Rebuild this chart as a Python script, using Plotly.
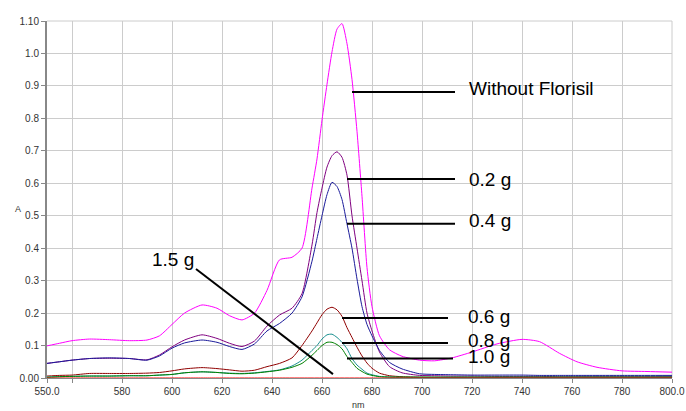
import plotly.graph_objects as go

# Wavelength (nm)
wavelength = [550, 555, 560, 567, 575, 583, 590, 595, 600, 605, 612, 618, 623, 628, 633, 638,
              643, 648, 652, 656, 658, 660, 662, 664, 666, 668, 670, 672, 674, 676, 678, 680,
              683, 687, 692, 699, 705, 712, 720, 730, 740, 747, 755, 762, 770, 780, 790, 800]

# Absorbance series
without_florisil = [0.099, 0.107, 0.115, 0.120, 0.118, 0.115, 0.117, 0.130, 0.165, 0.200, 0.225, 0.215,
                    0.192, 0.179, 0.200, 0.270, 0.364, 0.372, 0.400, 0.585, 0.675, 0.795, 0.905, 1.005,
                    1.075, 1.092, 1.030, 0.920, 0.760, 0.560, 0.340, 0.220, 0.130, 0.087, 0.067, 0.055,
                    0.053, 0.062, 0.080, 0.105, 0.119, 0.112, 0.076, 0.050, 0.033, 0.022, 0.020, 0.018]
g_0_2 = [0.045, 0.050, 0.055, 0.060, 0.061, 0.060, 0.056, 0.071, 0.096, 0.117, 0.133, 0.122,
         0.107, 0.097, 0.114, 0.160, 0.194, 0.215, 0.260, 0.410, 0.510, 0.585, 0.650, 0.685,
         0.697, 0.680, 0.625, 0.500, 0.400, 0.300, 0.200, 0.145, 0.080, 0.035, 0.016, 0.008,
         0.007, 0.006, 0.006, 0.005, 0.005, 0.005, 0.004, 0.004, 0.004, 0.004, 0.004, 0.004]
g_0_4 = [0.045, 0.050, 0.055, 0.060, 0.062, 0.060, 0.055, 0.068, 0.092, 0.108, 0.117, 0.110,
         0.097, 0.088, 0.105, 0.145, 0.168, 0.200, 0.250, 0.360, 0.430, 0.500, 0.565, 0.603,
         0.590, 0.550, 0.475, 0.400, 0.305, 0.220, 0.165, 0.130, 0.085, 0.048, 0.028, 0.013,
         0.011, 0.010, 0.009, 0.009, 0.009, 0.008, 0.008, 0.008, 0.008, 0.008, 0.008, 0.008]
g_0_6 = [0.006, 0.008, 0.009, 0.014, 0.014, 0.014, 0.015, 0.017, 0.022, 0.028, 0.032, 0.029,
         0.025, 0.021, 0.024, 0.035, 0.045, 0.062, 0.100, 0.145, 0.170, 0.195, 0.212, 0.218,
         0.210, 0.190, 0.155, 0.125, 0.095, 0.068, 0.046, 0.030, 0.015, 0.007, 0.004, 0.002,
         0.001, 0.001, 0.001, 0.001, 0.001, 0.001, 0.001, 0.001, 0.001, 0.001, 0.001, 0.001]
g_0_8 = [0.003, 0.004, 0.005, 0.006, 0.006, 0.007, 0.007, 0.009, 0.011, 0.016, 0.019, 0.017,
         0.015, 0.014, 0.016, 0.020, 0.025, 0.037, 0.055, 0.085, 0.100, 0.120, 0.133, 0.135,
         0.125, 0.110, 0.090, 0.060, 0.040, 0.027, 0.015, 0.010, 0.005, 0.003, 0.002, 0.002,
         0.002, 0.002, 0.002, 0.002, 0.002, 0.002, 0.002, 0.002, 0.002, 0.002, 0.002, 0.002]
g_1_0 = [0.002, 0.004, 0.005, 0.006, 0.006, 0.007, 0.007, 0.009, 0.011, 0.016, 0.019, 0.017,
         0.014, 0.013, 0.015, 0.019, 0.024, 0.033, 0.045, 0.070, 0.085, 0.100, 0.110, 0.110,
         0.103, 0.090, 0.066, 0.048, 0.030, 0.020, 0.012, 0.008, 0.004, 0.003, 0.003, 0.003,
         0.003, 0.003, 0.003, 0.003, 0.003, 0.003, 0.003, 0.003, 0.003, 0.003, 0.003, 0.003]
g_1_5 = [0.000] * len(wavelength)

series_names = ["Without Florisil", "0.2 g", "0.4 g", "0.6 g", "0.8 g", "1.0 g", "1.5 g"]
series_values = [without_florisil, g_0_2, g_0_4, g_0_6, g_0_8, g_1_0, g_1_5]
series_colors = ["#FF00FF", "#800080", "#1a1a9a", "#900000", "#1a9090", "#008000", "#FF0000"]

x_tickvals = [550, 560, 580, 600, 620, 640, 660, 680, 700, 720, 740, 760, 780, 800]
x_ticktext = ["550.0", "", "580", "600", "620", "640", "660", "680", "700", "720", "740", "760", "780", "800.0"]
y_tickvals = [0, 0.1, 0.2, 0.3, 0.4, 0.5, 0.6, 0.7, 0.8, 0.9, 1.0, 1.1]
y_ticktext = ["0.00", "0.1", "0.2", "0.3", "0.4", "0.5", "0.6", "0.7", "0.8", "0.9", "1.0", "1.10"]

fig = go.Figure()
for name, vals, col in zip(series_names, series_values, series_colors):
    fig.add_trace(go.Scatter(x=wavelength, y=vals, mode="lines", name=name,
                             line=dict(color=col, width=1, shape="spline", smoothing=0.6),
                             showlegend=False))

font_fam = "Liberation Sans, Arial, sans-serif"

# Frame lines at the top and right edges (grid-coloured)
fig.add_shape(type="line", xref="paper", yref="paper", x0=1, x1=1, y0=0, y1=1,
              line=dict(color="#cccccc", width=1), layer="below")
fig.add_shape(type="line", xref="paper", yref="paper", x0=0, x1=1, y0=1, y1=1,
              line=dict(color="#cccccc", width=1), layer="below")

# Label leader lines: (label, line x0, line x1, line y, text x, text y)
labels = [
    ("Without Florisil", 672.0, 713.2, 0.881, 718.0, 0.891),
    ("0.2 g", 670.0, 713.2, 0.613, 717.8, 0.613),
    ("0.4 g", 670.0, 713.2, 0.475, 717.8, 0.484),
    ("0.6 g", 668.0, 710.4, 0.185, 717.4, 0.191),
    ("0.8 g", 668.0, 710.4, 0.108, 717.4, 0.117),
    ("1.0 g", 670.0, 712.4, 0.060, 717.4, 0.065),
]
for txt, x0, x1, yl, tx, ty in labels:
    fig.add_shape(type="line", x0=x0, x1=x1, y0=yl, y1=yl, xref="x", yref="y",
                  line=dict(color="black", width=2))
    fig.add_annotation(x=tx, y=ty, text=txt, showarrow=False, xanchor="left", yanchor="middle",
                       font=dict(family=font_fam, size=19, color="black"))

fig.add_shape(type="line", x0=609.6, y0=0.336, x1=664.4, y1=0.012, xref="x", yref="y",
              line=dict(color="black", width=2))
fig.add_annotation(x=591.2, y=0.366, text="1.5 g", showarrow=False, xanchor="left", yanchor="middle",
                   font=dict(family=font_fam, size=19, color="black"))

# Axis titles
fig.add_annotation(x=-0.054, y=0.473, xref="paper", yref="paper", text="A", showarrow=False,
                   font=dict(family=font_fam, size=9, color="#333333"))
fig.add_annotation(x=0.499, y=-0.075, xref="paper", yref="paper", text="nm", showarrow=False,
                   yanchor="middle", font=dict(family=font_fam, size=9, color="#333333"))

fig.update_layout(
    width=686, height=411,
    autosize=False,
    margin=dict(l=47, r=14, t=21, b=33),
    paper_bgcolor="white", plot_bgcolor="white",
    font=dict(family=font_fam, size=10, color="#333333"),
    xaxis=dict(range=[550, 800], tickvals=x_tickvals, ticktext=x_ticktext,
               automargin=False,
               showgrid=True, gridcolor="#cccccc", gridwidth=1, zeroline=False,
               showline=True, linecolor="#888888", linewidth=1,
               ticks="outside", ticklen=4, tickcolor="#888888",
               ticklabeloverflow="allow",
               tickfont=dict(size=10, color="#333333")),
    yaxis=dict(range=[0, 1.1], tickvals=y_tickvals, ticktext=y_ticktext,
               automargin=False,
               showgrid=True, gridcolor="#cccccc", gridwidth=1, zeroline=False,
               showline=True, linecolor="#888888", linewidth=2,
               ticks="outside", ticklen=4, tickcolor="#888888",
               tickfont=dict(size=10, color="#333333")),
)

fig.write_html("out.html", config={"displayModeBar": False},
               post_script="document.body.style.margin='0px';document.body.style.overflow='hidden';")
